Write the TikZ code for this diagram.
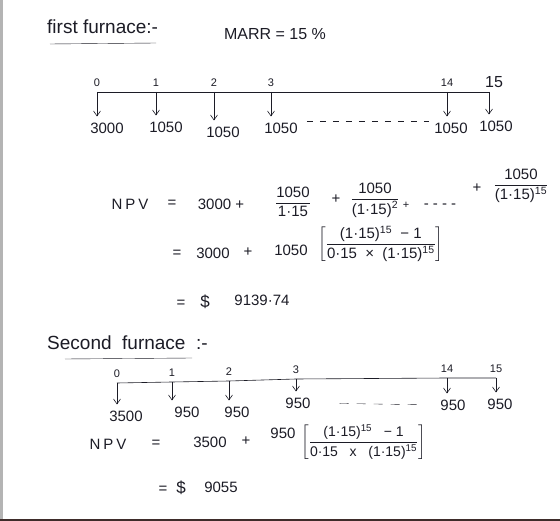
\documentclass[tikz,border=0pt]{standalone}
\usepackage{fontspec}
\usepackage{amsmath}
\usepackage{tikz}
\usetikzlibrary{arrows.meta,positioning}
\setmainfont{Liberation Sans}
\definecolor{ink}{HTML}{1C1C26}
\definecolor{paperedge}{HTML}{B4B4B4}
\definecolor{tableedge}{HTML}{3E2C2A}

\tikzset{
  hand/.style={font=\fontsize{15}{17}\selectfont, text=ink, inner sep=1pt},
  brfrac/.style={font=\fontsize{15}{17}\selectfont, text=ink, inner sep=0pt},
  headline/.style={font=\fontsize{19}{21}\selectfont, text=ink, inner sep=1pt},
  yearlbl/.style={font=\fontsize{11}{13}\selectfont, text=ink, inner sep=1pt},
  cash/.style={-{Straight Barb[length=5pt,width=7pt]}, ink, semithick, shorten >=5pt},
  gap/.style={ink, dashed, dash pattern=on 6pt off 7pt},
}

\begin{document}
\begin{tikzpicture}[x=1pt, y=-1pt]
    \useasboundingbox (0,0) rectangle (560,521);
    \fill[white] (0,0) rectangle (560,521);
    \fill[paperedge] (0,0) rectangle (2.5,521);
    \fill[tableedge] (0,518.5) rectangle (560,521);

    % first furnace
    \node[headline, anchor=west] (head1) at (46,27) {first furnace:-};
    \coordinate (u1a) at (50,44);
    \coordinate (u1b) at (156,43);
    \draw[ink] (u1a) -- (u1b);
    \node[hand, font=\fontsize{16}{18}\selectfont] (marr) at (275,34) {MARR = 15 \%};

    \coordinate (y0) at (97,92);
    \coordinate (y1) at (156,92);
    \coordinate (y2) at (214,92);
    \coordinate (y3) at (271,92);
    \coordinate (y14) at (447,92);
    \coordinate (y15) at (489,92);
    \draw[ink, semithick] (y0) -- (y15);

    \node[yearlbl, above=4pt of y0] (k0) {0};
    \node[yearlbl, above=4pt of y1] (k1) {1};
    \node[yearlbl, above=4pt of y2] (k2) {2};
    \node[yearlbl, above=4pt of y3] (k3) {3};
    \node[yearlbl, above=4pt of y14] (k14) {14};
    \node[yearlbl, font=\fontsize{16}{18}\selectfont, above=3pt of y15, xshift=5pt] (k15) {15};

    \node[hand] (c0) at (107,128) {3000};
    \node[hand] (c1) at (166,127) {1050};
    \node[hand] (c2) at (223,132) {1050};
    \node[hand] (c3) at (281,128) {1050};
    \node[hand] (c14) at (451,128) {1050};
    \node[hand] (c15) at (496,126) {1050};

    \draw[cash] (y0) -- (y0 |- c0.north);
    \draw[cash] (y1) -- (y1 |- c1.north);
    \draw[cash] (y2) -- (y2 |- c2.north);
    \draw[cash] (y3) -- (y3 |- c3.north);
    \draw[cash] (y14) -- (y14 |- c14.north);
    \draw[cash] (y15) -- (y15 |- c15.north);
    \draw[gap, shorten <=8pt, shorten >=4pt] (c3.north east) -- (c14.north west);

    % npv of first furnace
    \node[hand] (npv1) at (130,204) {N\kern3pt P\kern3pt V};
    \node[hand] (eq1) at (172,204) {=};
    \node[hand] (pv1) at (221,204) {3000 +};
    \node[hand] (f1) at (293,202) {$\dfrac{\mbox{1050}}{\mbox{1·15}}$};
    \node[hand] (pl1) at (336,199) {+};
    \node[hand] (f2) at (375,200) {$\dfrac{\mbox{1050}}{\mbox{(1·15)\textsuperscript{2}}}$};
    \node[hand, font=\fontsize{11}{13}\selectfont] (pl2) at (406,205) {+};
    \node[hand] (dots1) at (440,206) {- - - -};
    \node[hand] (pl3) at (477,188) {+};
    \node[hand] (f3) at (521,186) {$\dfrac{\mbox{1050}}{\mbox{(1·15)\textsuperscript{15}}}$};

    \node[hand] (eq3) at (177,254) {=};
    \node[hand] (pv4) at (213,253) {3000};
    \node[hand] (pl5) at (248,252) {+};
    \node[hand] (pv5) at (291,250) {1050};
    \node[brfrac, anchor=west] (brk1) at (318,244) {$\left[\dfrac{\mbox{(1·15)\textsuperscript{15}\ \ −\ 1}}{\mbox{0·15\ \ ×\ \ (1·15)\textsuperscript{15}}}\right]$};
    \node[hand] (eq4) at (181,304) {=};
    \node[hand, font=\fontsize{17}{19}\selectfont] (usd1) at (205,302) {\$};
    \node[hand] (tot1) at (262,300) {9139·74};

    % second furnace
    \node[headline, anchor=west] (head2) at (46,343) {Second\ \ furnace\ \ :-};
    \coordinate (u2a) at (65,359);
    \coordinate (u2b) at (192,358);
    \draw[ink] (u2a) -- (u2b);

    \coordinate (z0) at (117,383);
    \coordinate (z1) at (172,382);
    \coordinate (z2) at (229,381);
    \coordinate (z3) at (296,379);
    \coordinate (z14) at (447,378);
    \coordinate (z15) at (496,378);
    \draw[ink, semithick] (z0) -- (z1) -- (z2) -- (z3) -- (z14) -- (z15);

    \node[yearlbl, above=4pt of z0] (m0) {0};
    \node[yearlbl, above=4pt of z1] (m1) {1};
    \node[yearlbl, above=4pt of z2] (m2) {2};
    \node[yearlbl, above=4pt of z3] (m3) {3};
    \node[yearlbl, above=4pt of z14] (m14) {14};
    \node[yearlbl, above=4pt of z15] (m15) {15};

    \node[hand] (d0) at (126,416) {3500};
    \node[hand] (d1) at (187,412) {950};
    \node[hand] (d2) at (237,412) {950};
    \node[hand] (d3) at (298,403) {950};
    \node[hand] (d14) at (453,405) {950};
    \node[hand] (d15) at (500,404) {950};

    \draw[cash] (z0) -- (z0 |- d0.north);
    \draw[cash] (z1) -- (z1 |- d1.north);
    \draw[cash] (z2) -- (z2 |- d2.north);
    \draw[cash] (z3) -- (z3 |- d3.north);
    \draw[cash] (z14) -- (z14 |- d14.north);
    \draw[cash] (z15) -- (z15 |- d15.north);
    \draw[gap, dash pattern=on 9pt off 8pt, shorten <=28pt, shorten >=22pt] (d3.east) -- (d14.west);

    % npv of second furnace
    \node[hand] (npv2) at (108,444) {N\kern3pt P\kern3pt V};
    \node[hand] (eq2) at (156,444) {=};
    \node[hand] (pv2) at (210,442) {3500};
    \node[hand] (pl4) at (246,441) {+};
    \node[hand] (pv3) at (283,433) {950};
    \node[brfrac, anchor=west, font=\fontsize{14}{16}\selectfont] (brk2) at (301,442) {$\left[\dfrac{\mbox{(1·15)\textsuperscript{15}\ \ \ −\ 1}}{\mbox{0·15\ \ \ x\ \ \ (1·15)\textsuperscript{15}}}\right]$};
    \node[hand] (eq5) at (163,490) {=};
    \node[hand, font=\fontsize{17}{19}\selectfont] (usd2) at (181,488) {\$};
    \node[hand] (tot2) at (221,487) {9055};
\end{tikzpicture}
\end{document}
